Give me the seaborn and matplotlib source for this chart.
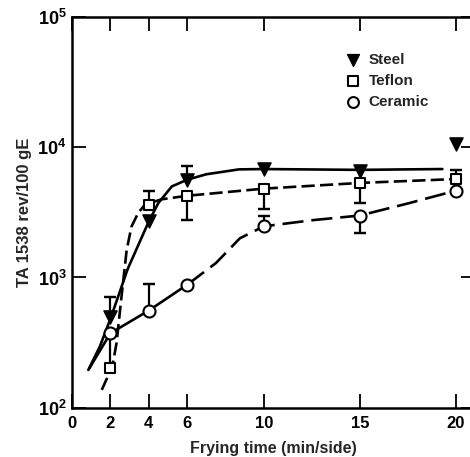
import numpy as np
import pandas as pd
import matplotlib
matplotlib.use("Agg")
import matplotlib.pyplot as plt
import seaborn as sns
from matplotlib.ticker import FixedLocator, FixedFormatter, NullLocator

# ---------------- data ----------------
x_points = [2, 4, 6, 10, 15, 20]
steel = [500, 2690, 5630, 6800, 6530, 10500]
teflon = [201, 3620, 4240, 4810, 5320, 5700]
ceramic = [373, 557, 879, 2470, 2990, 4640]

nan = np.nan
steel_err_hi = [713, nan, 7150, nan, nan, nan]
steel_err_lo = [nan, nan, nan, nan, nan, nan]
teflon_err_hi = [nan, 4590, nan, nan, nan, 6730]
teflon_err_lo = [nan, nan, 2780, 3370, 3730, nan]
ceramic_err_hi = [nan, 890, nan, 2990, nan, nan]
ceramic_err_lo = [210, nan, nan, nan, 2200, nan]

# hand-drawn fitted curves
steel_curve_x = [0.85, 1.45, 2.0, 2.9, 4.0, 4.5, 5.2, 6.0, 7.0, 8.7, 10, 12.5, 15, 17, 19.3]
steel_curve_y = [195, 295, 480, 1160, 2690, 3730, 5000, 5630, 6200, 6760, 6800, 6750, 6700, 6750, 6800]
teflon_curve_x = [1.55, 2.1, 2.32, 2.58, 2.85, 3.1, 3.45, 3.8, 4.66, 6, 10, 15, 20]
teflon_curve_y = [137, 207, 313, 714, 1630, 2460, 3130, 3620, 3980, 4240, 4810, 5320, 5700]
ceramic_curve_x = [0.9, 2, 4, 6, 7.5, 8.75, 10, 12.5, 15, 17.5, 20]
ceramic_curve_y = [200, 373, 557, 879, 1290, 2000, 2470, 2750, 2990, 3700, 4640]

series_labels = ["Steel", "Teflon", "Ceramic"]
x_ticks = [0, 2, 4, 6, 10, 15, 20]
y_ticks = [1e2, 1e3, 1e4, 1e5]
y_tick_labels = [r"$\mathbf{10^{2}}$", r"$\mathbf{10^{3}}$", r"$\mathbf{10^{4}}$", r"$\mathbf{10^{5}}$"]
x_label = "Frying time (min/side)"
y_label = "TA 1538 rev/100 gE"

# ---------------- style ----------------
sns.set_style("ticks")
plt.rcParams["font.family"] = ["Liberation Sans", "DejaVu Sans"]
plt.rcParams["mathtext.fontset"] = "custom"
plt.rcParams["mathtext.rm"] = "Liberation Sans"
plt.rcParams["mathtext.bf"] = "Liberation Sans:bold"

fig = plt.figure(figsize=(4.70, 4.57), dpi=100)
ax = fig.add_axes([72 / 470, 1 - 407.7 / 457, 403 / 470, (407.7 - 17) / 457])
ax.set_yscale("log")

lw = 1.9
# curves
sns.lineplot(x=steel_curve_x, y=steel_curve_y, ax=ax, color="black", lw=lw,
             sort=False, estimator=None, legend=False)
sns.lineplot(x=teflon_curve_x, y=teflon_curve_y, ax=ax, color="black", lw=lw,
             sort=False, estimator=None, legend=False)
ax.lines[-1].set_dashes([5, 2])
cx = np.array(ceramic_curve_x); cy = np.array(ceramic_curve_y)
m1 = cx <= 6
sns.lineplot(x=cx[m1], y=cy[m1], ax=ax, color="black", lw=lw,
             sort=False, estimator=None, legend=False)
m2 = cx >= 6
sns.lineplot(x=cx[m2], y=cy[m2], ax=ax, color="black", lw=lw,
             sort=False, estimator=None, legend=False)
ax.lines[-1].set_dashes([8, 3])

# error bars (one-sided, capped only at the far end)
def draw_err(vals, lo, hi):
    v = np.array(vals, float)
    lo = np.array(lo, float); hi = np.array(hi, float)
    for xi, vi, a, b in zip(x_points, v, lo, hi):
        for end in (a, b):
            if not np.isnan(end):
                ax.vlines(xi, min(vi, end), max(vi, end), color="black", lw=1.6, zorder=2)
                ax.errorbar([xi], [end], yerr=[[0], [0]], fmt="none", ecolor="black",
                            elinewidth=1.6, capsize=4.5, capthick=1.6, zorder=2)

draw_err(steel, steel_err_lo, steel_err_hi)
draw_err(teflon, teflon_err_lo, teflon_err_hi)
draw_err(ceramic, ceramic_err_lo, ceramic_err_hi)

# markers
sns.scatterplot(x=x_points, y=steel, ax=ax, marker="v", s=90, color="black",
                edgecolor="black", linewidth=1.0, label=series_labels[0], zorder=5)
sns.scatterplot(x=x_points, y=teflon, ax=ax, marker="s", s=60, facecolor="white",
                edgecolor="black", linewidth=1.5, label=series_labels[1], zorder=5)
sns.scatterplot(x=x_points, y=ceramic, ax=ax, marker="o", s=75, facecolor="white",
                edgecolor="black", linewidth=1.5, label=series_labels[2], zorder=5)

# axes
ax.set_xlim(0, 21)
ax.set_ylim(1e2, 1e5)
for s in ["left", "bottom", "top", "right"]:
    ax.spines[s].set_visible(True)
    ax.spines[s].set_linewidth(1.8)
    ax.spines[s].set_color("black")

ax.xaxis.set_major_locator(FixedLocator(x_ticks))
ax.set_xticklabels([str(t) for t in x_ticks], fontweight="bold", fontsize=12)
ax.yaxis.set_major_locator(FixedLocator(y_ticks))
ax.yaxis.set_major_formatter(FixedFormatter(y_tick_labels))
ax.yaxis.set_minor_locator(NullLocator())
ax.tick_params(axis="both", which="major", direction="in", length=10, width=1.3,
               top=True, right=True, colors="black")
ax.tick_params(axis="x", pad=6, labelsize=12)
ax.tick_params(axis="y", pad=4, labelsize=13)

ax.set_xlabel(x_label, fontsize=11.5, fontweight="bold", labelpad=7)
ax.set_ylabel(y_label, fontsize=12, fontweight="bold", labelpad=4)

leg = ax.legend(loc="upper left", bbox_to_anchor=(342 / 470, 1 - 53 / 457),
                bbox_transform=fig.transFigure, frameon=False, handletextpad=0.35,
                labelspacing=0.45, borderaxespad=0, borderpad=0, handlelength=1.4,
                prop={"weight": "bold", "size": 11}, markerscale=0.9)

fig.savefig("out.png", dpi=100)
